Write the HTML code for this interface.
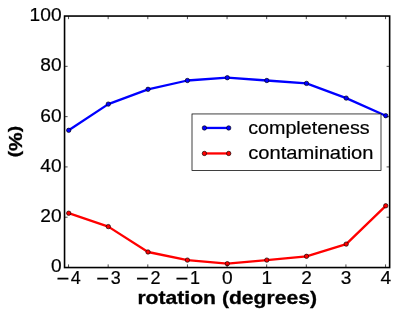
<!DOCTYPE html>
<html>
<head>
<meta charset="utf-8">
<title>completeness and contamination vs rotation</title>
<style>
  html, body { margin: 0; padding: 0; background: #ffffff; }
  body { width: 399px; height: 316px; overflow: hidden; }
  svg { display: block; will-change: transform; }
  .txt { filter: grayscale(1); }
  text { font-family: "Liberation Sans", sans-serif; fill: #000000; }
  .tick { font-size: 18px; stroke: #000; stroke-width: 0.2px; }
  .axl  { font-size: 18.2px; font-weight: bold; stroke: #000; stroke-width: 0.3px; }
  .leg  { font-size: 17.9px; stroke: #000; stroke-width: 0.2px; }
  .mn   { font-size: 22px; }
  .pr   { font-size: 16.6px; }
</style>
</head>
<body>
<svg width="399" height="316" viewBox="0 0 399 316">
  <rect x="0" y="0" width="399" height="316" fill="#ffffff"/>

  <!-- data lines -->
  <g fill="none" stroke-linejoin="round" stroke-linecap="butt" stroke-width="2.3">
    <polyline stroke="#0000ff" points="68.7,130.3 108.3,104.1 148.0,89.3 187.4,80.5 227.3,77.7 266.8,80.5 306.5,83.4 346.2,98.1 385.75,115.7"/>
    <polyline stroke="#ff0000" points="68.7,213.2 108.3,226.6 148.0,252.0 187.4,260.1 227.3,263.7 266.8,260.1 306.5,256.3 346.2,244.1 385.75,205.8"/>
  </g>
  <!-- markers -->
  <g fill="#0000ff" stroke="#000000" stroke-width="0.65">
    <circle cx="68.7" cy="130.3" r="2.2"/><circle cx="108.3" cy="104.1" r="2.2"/><circle cx="148.0" cy="89.3" r="2.2"/>
    <circle cx="187.4" cy="80.5" r="2.2"/><circle cx="227.3" cy="77.7" r="2.2"/><circle cx="266.8" cy="80.5" r="2.2"/>
    <circle cx="306.5" cy="83.4" r="2.2"/><circle cx="346.2" cy="98.1" r="2.2"/><circle cx="385.75" cy="115.7" r="2.2"/>
  </g>
  <g fill="#ff0000" stroke="#000000" stroke-width="0.65">
    <circle cx="68.7" cy="213.2" r="2.2"/><circle cx="108.3" cy="226.6" r="2.2"/><circle cx="148.0" cy="252.0" r="2.2"/>
    <circle cx="187.4" cy="260.1" r="2.2"/><circle cx="227.3" cy="263.7" r="2.2"/><circle cx="266.8" cy="260.1" r="2.2"/>
    <circle cx="306.5" cy="256.3" r="2.2"/><circle cx="346.2" cy="244.1" r="2.2"/><circle cx="385.75" cy="205.8" r="2.2"/>
  </g>

  <!-- ticks -->
  <g stroke="#000000" stroke-width="0.7" fill="none">
    <path d="M68.55,267.5v-3.1M108.17,267.5v-3.1M147.80,267.5v-3.1M187.43,267.5v-3.1M227.05,267.5v-3.1M266.68,267.5v-3.1M306.30,267.5v-3.1M345.93,267.5v-3.1M385.55,267.5v-3.1"/>
    <path d="M68.55,16.05v3.1M108.17,16.05v3.1M147.80,16.05v3.1M187.43,16.05v3.1M227.05,16.05v3.1M266.68,16.05v3.1M306.30,16.05v3.1M345.93,16.05v3.1M385.55,16.05v3.1"/>
    <path d="M64.5,217.21h3.1M64.5,166.92h3.1M64.5,116.63h3.1M64.5,66.34h3.1"/>
    <path d="M389.7,217.21h-3.1M389.7,166.92h-3.1M389.7,116.63h-3.1M389.7,66.34h-3.1"/>
  </g>

  <!-- axes frame -->
  <rect x="64.55" y="16.05" width="325.1" height="251.5" fill="none" stroke="#000000" stroke-width="1.6"/>

  <!-- legend -->
  <rect x="192" y="113.95" width="189" height="56.45" fill="#ffffff" stroke="#000000" stroke-width="0.75"/>
  <line x1="204.4" y1="127.95" x2="228.7" y2="127.95" stroke="#0000ff" stroke-width="2.3"/>
  <line x1="204.4" y1="153.45" x2="228.7" y2="153.45" stroke="#ff0000" stroke-width="2.3"/>
  <g fill="#0000ff" stroke="#000000" stroke-width="0.65">
    <circle cx="204.4" cy="127.95" r="2.2"/><circle cx="228.7" cy="127.95" r="2.2"/>
  </g>
  <g fill="#ff0000" stroke="#000000" stroke-width="0.65">
    <circle cx="204.4" cy="153.45" r="2.2"/><circle cx="228.7" cy="153.45" r="2.2"/>
  </g>
  <g class="txt">
  <text class="leg" x="248.2" y="134.25" textLength="121.5" lengthAdjust="spacingAndGlyphs">completeness</text>
  <text class="leg" x="248.2" y="159.3" textLength="125.3" lengthAdjust="spacingAndGlyphs">contamination</text>

  <!-- y tick labels -->
  <g class="tick" text-anchor="end">
    <text x="61.6" y="21.00" textLength="32.0" lengthAdjust="spacingAndGlyphs">100</text>
    <text x="61.6" y="71.26" textLength="21.3" lengthAdjust="spacingAndGlyphs">80</text>
    <text x="61.6" y="121.52" textLength="21.3" lengthAdjust="spacingAndGlyphs">60</text>
    <text x="61.6" y="171.78" textLength="21.3" lengthAdjust="spacingAndGlyphs">40</text>
    <text x="61.6" y="222.04" textLength="21.3" lengthAdjust="spacingAndGlyphs">20</text>
    <text x="61.6" y="272.30" textLength="10.65" lengthAdjust="spacingAndGlyphs">0</text>
  </g>

  <!-- x tick labels -->
  <g class="tick">
    <text y="283.9"><tspan class="mn" x="56.6" dy="2">−</tspan><tspan x="70.8" dy="-2">4</tspan></text>
    <text y="283.9"><tspan class="mn" x="96.25" dy="2">−</tspan><tspan x="110.8" dy="-2">3</tspan></text>
    <text y="283.9"><tspan class="mn" x="135.9" dy="2">−</tspan><tspan x="150.5" dy="-2">2</tspan></text>
    <text y="283.9"><tspan class="mn" x="175.55" dy="2">−</tspan><tspan x="190.1" dy="-2">1</tspan></text>
  </g>
  <g class="tick" text-anchor="middle">
    <text x="227.2" y="283.9" textLength="10.65" lengthAdjust="spacingAndGlyphs">0</text>
    <text x="266.85" y="283.9" textLength="10.65" lengthAdjust="spacingAndGlyphs">1</text>
    <text x="306.5" y="283.9" textLength="10.65" lengthAdjust="spacingAndGlyphs">2</text>
    <text x="346.15" y="283.9" textLength="10.65" lengthAdjust="spacingAndGlyphs">3</text>
    <text x="385.8" y="283.9" textLength="10.65" lengthAdjust="spacingAndGlyphs">4</text>
  </g>

  <!-- axis labels -->
  <text class="axl" x="137.4" y="304" textLength="179.6" lengthAdjust="spacingAndGlyphs">rotation (degrees)</text>
  <text class="axl" text-anchor="middle" transform="translate(21.7,141.6) rotate(-90) scale(1.15,1)"><tspan class="pr" dy="-1.5">(</tspan><tspan dy="1.5">%</tspan><tspan class="pr" dy="-1.5">)</tspan></text>
  </g>
</svg>
</body>
</html>
